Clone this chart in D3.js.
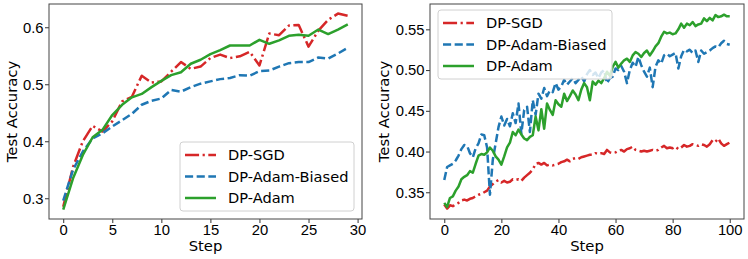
<!DOCTYPE html>
<html>
<head>
<meta charset="utf-8">
<script src="https://cdn.jsdelivr.net/npm/d3@7"></script>
<style>
  body { margin: 0; background: #fff; }
  svg { display: block; font-family: "DejaVu Sans", sans-serif; }
  .domain { display: none; }
  .tick line { stroke: #333; stroke-width: 1; }
  .tick text { font-size: 14.8px; fill: #000; }
  .lbl { font-size: 14.8px; fill: #000; }
  .leg text { font-size: 14.6px; fill: #000; }
</style>
</head>
<body>
<svg id="chart" width="748" height="259"></svg>
<script>
// left panel: 30 steps
const stepsA = d3.range(0, 30);
const sgdA = [0.285, 0.355, 0.400, 0.427, 0.417, 0.435, 0.470, 0.478, 0.515, 0.503,
              0.505, 0.522, 0.539, 0.527, 0.531, 0.546, 0.552, 0.546, 0.549, 0.557,
              0.533, 0.589, 0.586, 0.603, 0.604, 0.566, 0.594, 0.613, 0.624, 0.620];
const biasedA = [0.296, 0.350, 0.382, 0.405, 0.414, 0.426, 0.437, 0.448, 0.464, 0.471,
                 0.475, 0.490, 0.487, 0.495, 0.501, 0.505, 0.509, 0.511, 0.516, 0.515,
                 0.523, 0.524, 0.531, 0.537, 0.539, 0.539, 0.547, 0.545, 0.554, 0.564];
const adamA = [0.280, 0.335, 0.376, 0.407, 0.420, 0.446, 0.464, 0.477, 0.483, 0.495,
               0.506, 0.516, 0.521, 0.536, 0.543, 0.553, 0.560, 0.568, 0.568, 0.568,
               0.578, 0.571, 0.577, 0.585, 0.587, 0.585, 0.596, 0.588, 0.596, 0.605];

// right panel: 101 steps
const stepsB = d3.range(0, 101);
const sgdB = [0.335, 0.330, 0.334, 0.333, 0.335, 0.337, 0.340, 0.341, 0.340, 0.342,
              0.343, 0.345, 0.347, 0.348, 0.350, 0.352, 0.357, 0.360, 0.363, 0.365,
              0.362, 0.364, 0.362, 0.363, 0.366, 0.365, 0.366, 0.364, 0.368, 0.371,
              0.374, 0.378, 0.385, 0.386, 0.384, 0.386, 0.383, 0.384, 0.383, 0.384,
              0.385, 0.387, 0.388, 0.390, 0.388, 0.391, 0.392, 0.391, 0.393, 0.394,
              0.395, 0.396, 0.396, 0.398, 0.397, 0.398, 0.397, 0.402, 0.399, 0.398,
              0.399, 0.401, 0.402, 0.400, 0.403, 0.404, 0.406, 0.402, 0.401, 0.400,
              0.401, 0.400, 0.401, 0.402, 0.401, 0.402, 0.405, 0.407, 0.404, 0.405,
              0.404, 0.406, 0.403, 0.405, 0.408, 0.406, 0.407, 0.409, 0.408, 0.407,
              0.409, 0.408, 0.406, 0.409, 0.414, 0.412, 0.416, 0.410, 0.407, 0.409, 0.411];
const biasedB = [0.365, 0.381, 0.383, 0.385, 0.389, 0.395, 0.403, 0.408, 0.407, 0.398,
                 0.393, 0.404, 0.410, 0.421, 0.420, 0.405, 0.347, 0.390, 0.410, 0.430,
                 0.443, 0.432, 0.440, 0.431, 0.447, 0.435, 0.459, 0.422, 0.451, 0.455,
                 0.424, 0.463, 0.445, 0.471, 0.465, 0.478, 0.468, 0.475, 0.473, 0.484,
                 0.476, 0.480, 0.488, 0.482, 0.486, 0.490, 0.484, 0.488, 0.492, 0.486,
                 0.495, 0.500, 0.494, 0.497, 0.490, 0.497, 0.500, 0.484, 0.490, 0.492,
                 0.502, 0.500, 0.505, 0.498, 0.484, 0.500, 0.509, 0.504, 0.516, 0.506,
                 0.498, 0.492, 0.503, 0.479, 0.504, 0.512, 0.508, 0.518, 0.520, 0.517,
                 0.519, 0.521, 0.502, 0.517, 0.525, 0.523, 0.525, 0.521, 0.524, 0.510,
                 0.524, 0.520, 0.522, 0.524, 0.527, 0.529, 0.528, 0.533, 0.536, 0.532, 0.531];
const adamB = [0.337, 0.332, 0.343, 0.345, 0.352, 0.357, 0.366, 0.369, 0.371, 0.376,
               0.374, 0.385, 0.395, 0.397, 0.396, 0.399, 0.405, 0.401, 0.394, 0.390,
               0.384, 0.394, 0.405, 0.411, 0.424, 0.420, 0.427, 0.421, 0.416, 0.414,
               0.418, 0.420, 0.443, 0.426, 0.452, 0.428, 0.459, 0.451, 0.445, 0.463,
               0.458, 0.455, 0.471, 0.462, 0.468, 0.475, 0.470, 0.463, 0.476, 0.484,
               0.479, 0.463, 0.486, 0.482, 0.487, 0.484, 0.490, 0.498, 0.493, 0.504,
               0.510, 0.503, 0.508, 0.512, 0.514, 0.510, 0.518, 0.522, 0.520, 0.516,
               0.521, 0.524, 0.518, 0.523, 0.529, 0.533, 0.541, 0.547, 0.545, 0.546,
               0.544, 0.545, 0.550, 0.557, 0.552, 0.557, 0.555, 0.559, 0.554, 0.556,
               0.557, 0.5635, 0.560, 0.564, 0.561, 0.5675, 0.565, 0.566, 0.568, 0.566, 0.566];

const names = ['DP-SGD', 'DP-Adam-Biased', 'DP-Adam'];
const colors = ['#d62728', '#1f77b4', '#2ca02c'];
const lw = 2.5;
const u = 2.2; // dash unit
const dashes = [`${6.4 * u},${1.6 * u},${1 * u},${1.6 * u}`, `${3.7 * u},${1.6 * u}`, null];

const svg = d3.select('#chart');

function panel(opt) {
  const g = svg.append('g');
  const x = d3.scaleLinear().domain(opt.xDomain).range([opt.left, opt.right]);
  const y = d3.scaleLinear().domain(opt.yDomain).range([opt.bottom, opt.top]);

  g.append('g')
    .attr('transform', `translate(0,${opt.bottom})`)
    .call(d3.axisBottom(x).tickValues(opt.xTicks).tickSize(4).tickPadding(1.5).tickSizeOuter(0));
  g.append('g')
    .attr('transform', `translate(${opt.left},0)`)
    .call(d3.axisLeft(y).tickValues(opt.yTicks).tickFormat(d3.format(opt.yFmt)).tickSize(4).tickPadding(1.5).tickSizeOuter(0));

  const clipId = 'clip' + opt.left;
  g.append('clipPath').attr('id', clipId)
    .append('rect')
    .attr('x', opt.left).attr('y', opt.top)
    .attr('width', opt.right - opt.left).attr('height', opt.bottom - opt.top);

  const line = d3.line().x((d, i) => x(opt.steps[i])).y(d => y(d));
  opt.series.forEach((s, k) => {
    g.append('path')
      .attr('clip-path', `url(#${clipId})`)
      .attr('d', line(s))
      .attr('fill', 'none')
      .attr('stroke', colors[k])
      .attr('stroke-width', lw)
      .attr('stroke-linejoin', 'round')
      .attr('stroke-dasharray', dashes[k]);
  });

  // frame
  g.append('rect')
    .attr('x', opt.left).attr('y', opt.top)
    .attr('width', opt.right - opt.left).attr('height', opt.bottom - opt.top)
    .attr('fill', 'none').attr('stroke', '#444').attr('stroke-width', 1);

  g.append('text').attr('class', 'lbl')
    .attr('text-anchor', 'middle')
    .attr('x', (opt.left + opt.right) / 2).attr('y', 251)
    .text('Step');
  g.append('text').attr('class', 'lbl')
    .attr('text-anchor', 'middle')
    .attr('transform', `translate(${opt.ylabX},${(opt.top + opt.bottom) / 2}) rotate(-90)`)
    .text('Test Accuracy');

  // legend
  const lg = g.append('g').attr('class', 'leg');
  lg.append('rect')
    .attr('x', opt.leg.x).attr('y', opt.leg.y)
    .attr('width', 174).attr('height', 69)
    .attr('rx', 3)
    .attr('fill', 'rgba(255,255,255,0.8)')
    .attr('stroke', '#d0d0d0').attr('stroke-width', 1);
  names.forEach((n, k) => {
    const cy = opt.leg.y + 13 + k * 21.5;
    lg.append('line')
      .attr('x1', opt.leg.x + 5).attr('x2', opt.leg.x + 36)
      .attr('y1', cy).attr('y2', cy)
      .attr('stroke', colors[k]).attr('stroke-width', lw)
      .attr('stroke-dasharray', dashes[k]);
    lg.append('text')
      .attr('x', opt.leg.x + 48).attr('y', cy + 5.3)
      .text(n);
  });
}

panel({
  left: 49, right: 362, top: 4, bottom: 219,
  xDomain: [-1.45, 30.45], yDomain: [0.2636, 0.6408],
  xTicks: [0, 5, 10, 15, 20, 25, 30], yTicks: [0.3, 0.4, 0.5, 0.6], yFmt: '.1f',
  steps: stepsA, series: [sgdA, biasedA, adamA],
  ylabX: 17, leg: { x: 180, y: 142 }
});

panel({
  left: 430, right: 744, top: 4, bottom: 219,
  xDomain: [-5, 105], yDomain: [0.3172, 0.5811],
  xTicks: [0, 20, 40, 60, 80, 100], yTicks: [0.35, 0.40, 0.45, 0.50, 0.55], yFmt: '.2f',
  steps: stepsB, series: [sgdB, biasedB, adamB],
  ylabX: 389, leg: { x: 438, y: 10 }
});
</script>
</body>
</html>
